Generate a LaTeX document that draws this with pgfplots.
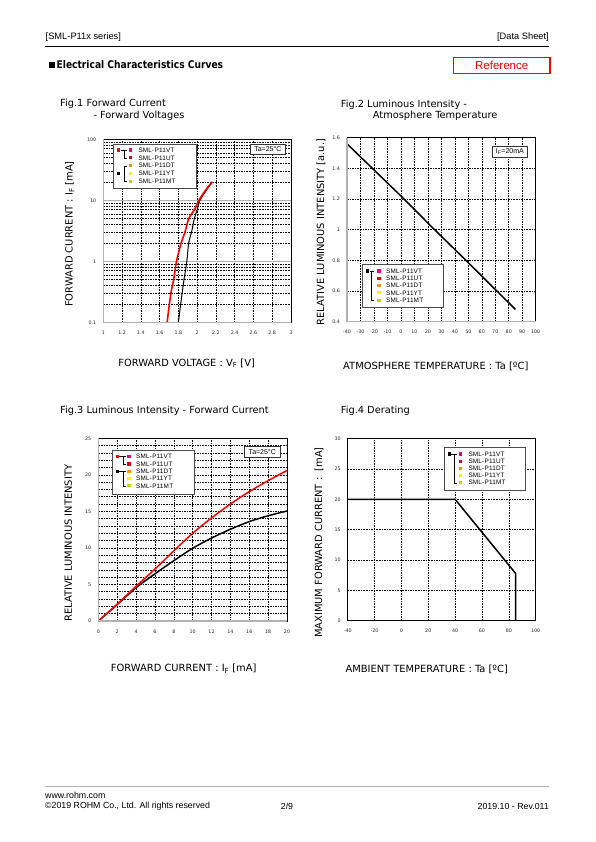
\documentclass[border=0pt]{standalone}
\usepackage{fontspec}
\setmainfont{Liberation Sans}
\newfontfamily\verd{DejaVu Sans}
\newfontfamily\hdfont[FakeStretch=0.86]{DejaVu Sans}
\newfontfamily\legff[LetterSpace=3]{Liberation Sans}
\usepackage{pgfplots}
\pgfplotsset{compat=1.18}
\definecolor{cMag}{HTML}{E4007F}
\definecolor{cRed}{HTML}{E60012}
\definecolor{cOra}{HTML}{F39800}
\definecolor{cYel}{HTML}{FFF100}
\definecolor{cGrn}{HTML}{C3D600}
\newcommand\fs[1]{\fontsize{#1}{#1}\selectfont}
\newcommand\tickf{\verd\fontsize{4.8}{5}\selectfont}
\newcommand\legfont{\legff\fontsize{6.4}{6.4}\selectfont}
\newcommand\legbox[4]{\draw[black!70,line width=0.9pt,fill=white] (#1,#2) rectangle (#3,#4);}
\newcommand\legrows[7]{%
 \foreach \cc/\lbl/\yy in {cMag/SML-P11VT/#3,cRed/SML-P11UT/#4,cOra/SML-P11DT/#5,cYel/SML-P11YT/#6,cGrn/SML-P11MT/#7}{%
  \fill[\cc] ({#1-1.6},{\yy-1.6}) rectangle ({#1+1.6},{\yy+1.6});
  \node[anchor=west,inner sep=0,font=\legfont] at (#2,\yy) {\lbl};}}
\newcommand\brk[3]{\draw[black,line width=0.5pt] ({#1+2.4},#2) -- (#1,#2) -- (#1,#3) -- ({#1+2.4},#3);}
\newcommand\gsq[3]{\fill[#1] ({#2-1.7},{#3-1.7}) rectangle ({#2+1.7},{#3+1.7});}
\pgfplotsset{
  panel/.style={scale only axis, anchor=south west,
    axis line style={black,line width=0.8pt},
    major tick length=0pt, minor tick length=0pt,
    ticklabel style={font=\tickf, text=black!85},
    xticklabel style={yshift=-5pt},
    yticklabel style={xshift=-3.5pt},
    major grid style={black, line width=0.55pt, dash pattern=on 1.6pt off 1pt},
    minor grid style={black, line width=0.55pt, dash pattern=on 1.6pt off 1pt},
    enlargelimits=false},
}
\tikzset{
  lab/.style={inner sep=0, font=\verd\fs{9.9}},
  ttl/.style={anchor=west, inner sep=0, font=\verd\fs{9.8}},
}
\begin{document}
\begin{tikzpicture}[x=1pt,y=1pt]
\useasboundingbox (0,0) rectangle (595,842);

% ---------- header ----------
\node[anchor=west,inner sep=0,font=\fs{9.3}] at (45.5,804.5) {[SML-P11x series]};
\node[anchor=east,inner sep=0,font=\fs{9.3}] at (549,804.5) {[Data Sheet]};
\draw[black,line width=0.9pt] (45,796) -- (549,796);
\fill (49,773.5) rectangle (55,779.5);
\node[anchor=west,inner sep=0,font=\hdfont\bfseries\fs{10.6}] at (56.5,777.3) {Electrical Characteristics Curves};
\draw[red,line width=1.6pt] (453.5,784.5) rectangle (550,768.5);
\node[red,inner sep=0,font=\fs{11.5}] at (501.7,776.5) {Reference};

% ---------- footer ----------
\draw[gray!60,line width=1pt] (45,55) -- (549,55);
\node[anchor=west,inner sep=0,font=\fs{8.8}] at (45,46.5) {www.rohm.com};
\node[anchor=west,inner sep=0,font=\fs{8.8}] at (45,36) {©2019 ROHM Co., Ltd. All rights reserved};
\node[inner sep=0,font=\fs{8.8}] at (287,36) {2/9};
\node[anchor=east,inner sep=0,font=\fs{8.8}] at (549,36) {2019.10 - Rev.011};

% ---------- titles ----------
\node[ttl] at (60,737.7) {Fig.1 Forward Current};
\node[ttl] at (93.3,726) {- Forward Voltages};
\node[ttl] at (340.7,737) {Fig.2 Luminous Intensity -};
\node[ttl] at (372.7,726) {Atmosphere Temperature};
\node[ttl] at (60,431.3) {Fig.3 Luminous Intensity - Forward Current};
\node[ttl] at (340.7,431.3) {Fig.4 Derating};

% ---------- Fig.1 ----------
\begin{axis}[panel, at={(103.3pt,519.7pt)}, width=187.7pt, height=183pt,
  xmin=1, xmax=3, ymode=log, ymin=0.1, ymax=100,
  xtick={1,1.2,1.4,1.6,1.8,2,2.2,2.4,2.6,2.8,3},
  xticklabels={1,1.2,1.4,1.6,1.8,2,2.2,2.4,2.6,2.8,3},
  ytick={0.1,1,10,100}, yticklabels={0.1,1,10,100},
  minor ytick={0.2,0.3,0.4,0.5,0.6,0.7,0.8,0.9,2,3,4,5,6,7,8,9,20,30,40,50,60,70,80,90},
  xmajorgrids, yminorgrids,
  extra y ticks={1,10}, extra y tick labels={},
  extra y tick style={ymajorgrids=true, major grid style={gray!60, line width=1.1pt, solid}},
]
\addplot[black, line width=1pt, smooth] coordinates {(1.80,0.1)(1.84,0.3)(1.86,0.5)(1.89,1)(1.91,2)(1.94,3)(1.97,5)(2.00,7)(2.03,10)(2.09,14)(2.16,20)};
\addplot[red, line width=1.6pt, smooth] coordinates {(1.68,0.1)(1.72,0.3)(1.75,0.5)(1.78,1)(1.83,2)(1.87,3)(1.91,5)(1.97,7)(2.02,10)(2.08,14)(2.16,20)};
\end{axis}
\draw[gray!60,line width=1.3pt] (103.3,702.7) -- (103.3,519.7) -- (291,519.7);
\legbox{113.3}{697.8}{196.7}{653.7}
\legrows{130.7}{138.3}{692}{684.1}{676.2}{668.3}{660.4}
\gsq{red}{118.7}{692}
\draw[black,line width=0.5pt] (120.5,692) -- (126.8,692);
\brk{124.3}{692}{684.1}
\gsq{black}{118.7}{668.3}
\brk{124.3}{676.2}{660.4}
\draw[black!80,line width=0.8pt,fill=white] (250,698) rectangle (285.7,687.7);
\node[inner sep=0,font=\fs{7}] at (267.9,692.8) {Ta=25°C};
\node[lab] at (186.7,478.7) {FORWARD VOLTAGE : V\textsubscript{F} [V]};
\node[lab,rotate=90] at (69.7,608) {FORWARD CURRENT : I\textsubscript{F} [mA]};

% ---------- Fig.2 ----------
\begin{axis}[panel, at={(347pt,520.3pt)}, width=188.7pt, height=184pt,
  xmin=-40, xmax=100, ymin=0.4, ymax=1.6,
  xtick={-40,-30,-20,-10,0,10,20,30,40,50,60,70,80,90,100},
  xticklabels={-40,-30,-20,-10,0,10,20,30,40,50,60,70,80,90,100},
  ytick={0.4,0.6,0.8,1,1.2,1.4,1.6},
  yticklabels={0.4,0.6,0.8,1,1.2,1.4,1.6},
  xmajorgrids, ymajorgrids,
]
\addplot[black, line width=1.5pt] coordinates {(-40,1.56)(-20,1.39)(0,1.22)(25,1.0)(50,0.785)(70,0.61)(85,0.48)};
\end{axis}
\draw[gray!60,line width=1.3pt] (347,704.3) -- (347,520.3) -- (535.7,520.3);
\legbox{362.3}{577.7}{443.3}{534.7}
\legrows{379}{386}{571}{563.7}{556.4}{549.1}{541.8}
\gsq{black}{367.7}{571}
\draw[black,line width=0.5pt] (369.5,571) -- (374,571);
\brk{371.7}{571}{541.8}
\draw[black!80,line width=0.8pt,fill=white] (492,695.3) rectangle (527.7,684.7);
\node[inner sep=0,font=\fs{7}] at (509.9,690) {I\textsubscript{F}=20mA};
\node[lab] at (435.8,475.3) {ATMOSPHERE TEMPERATURE : Ta [ºC]};
\node[lab,rotate=90] at (321,610) {RELATIVE LUMINOUS INTENSITY [a.u.]};

% ---------- Fig.3 ----------
\begin{axis}[panel, at={(98.3pt,221pt)}, width=188.7pt, height=182.7pt,
  xmin=0, xmax=20, ymin=0, ymax=25,
  xtick={0,2,4,6,8,10,12,14,16,18,20},
  xticklabels={0,2,4,6,8,10,12,14,16,18,20},
  ytick={0,5,10,15,20,25}, yticklabels={0,5,10,15,20,25},
  minor y tick num=4,
  xmajorgrids, ymajorgrids, yminorgrids,
]
\addplot[black, line width=1.5pt, smooth] coordinates {(0,0)(2,2.25)(4,4.55)(6,6.45)(8,8.25)(10,9.95)(12,11.35)(14,12.55)(16,13.6)(18,14.4)(20,15.05)};
\addplot[red, line width=1.5pt, smooth] coordinates {(0,0)(2,2.3)(4,4.75)(6,7.1)(8,9.6)(10,12.0)(12,14.1)(14,16.0)(16,17.7)(18,19.2)(20,20.6)};
\end{axis}
\draw[gray!60,line width=1.3pt] (98.3,403.7) -- (98.3,221) -- (287,221);
\legbox{112}{392}{194.3}{348}
\legrows{129}{136}{385.3}{378}{370.7}{363.4}{356.1}
\gsq{red}{117.3}{385.3}
\draw[black,line width=0.5pt] (119,385.3) -- (125.7,385.3);
\brk{123.3}{385.3}{378}
\gsq{black}{117.3}{370.7}
\draw[black,line width=0.5pt] (119,370.7) -- (125.7,370.7);
\brk{123.3}{370.7}{356.1}
\draw[black!80,line width=0.8pt,fill=white] (244.3,395.3) rectangle (280.3,385);
\node[inner sep=0,font=\fs{7}] at (262.3,390.1) {Ta=25°C};
\node[lab] at (183.7,173) {FORWARD CURRENT : I\textsubscript{F} [mA]};
\node[lab,rotate=90] at (68.3,298.7) {RELATIVE LUMINOUS INTENSITY};

% ---------- Fig.4 ----------
\begin{axis}[panel, at={(347.7pt,221.3pt)}, width=188pt, height=182pt,
  axis line style={black,line width=1.1pt},
  xmin=-40, xmax=100, ymin=0, ymax=30,
  xtick={-40,-20,0,20,40,60,80,100},
  xticklabels={-40,-20,0,20,40,60,80,100},
  ytick={0,5,10,15,20,25,30}, yticklabels={0,5,10,15,20,25,30},
  xmajorgrids, ymajorgrids,
]
\addplot[black, line width=1.5pt] coordinates {(-40,20)(40,20)(85,7.8)(85,0)};
\end{axis}
\legbox{444}{395}{525.7}{351.3}
\legrows{460.7}{468.3}{388}{380.8}{373.6}{366.4}{359.2}
\gsq{black}{449.3}{388}
\draw[black,line width=0.5pt] (451,388) -- (456.7,388);
\brk{454.3}{388}{359.2}
\node[lab] at (426.7,173) {AMBIENT TEMPERATURE : Ta [ºC]};
\node[lab,rotate=90] at (319,299.5) {MAXIMUM FORWARD CURRENT :\ \ [mA]};
\end{tikzpicture}
\end{document}
